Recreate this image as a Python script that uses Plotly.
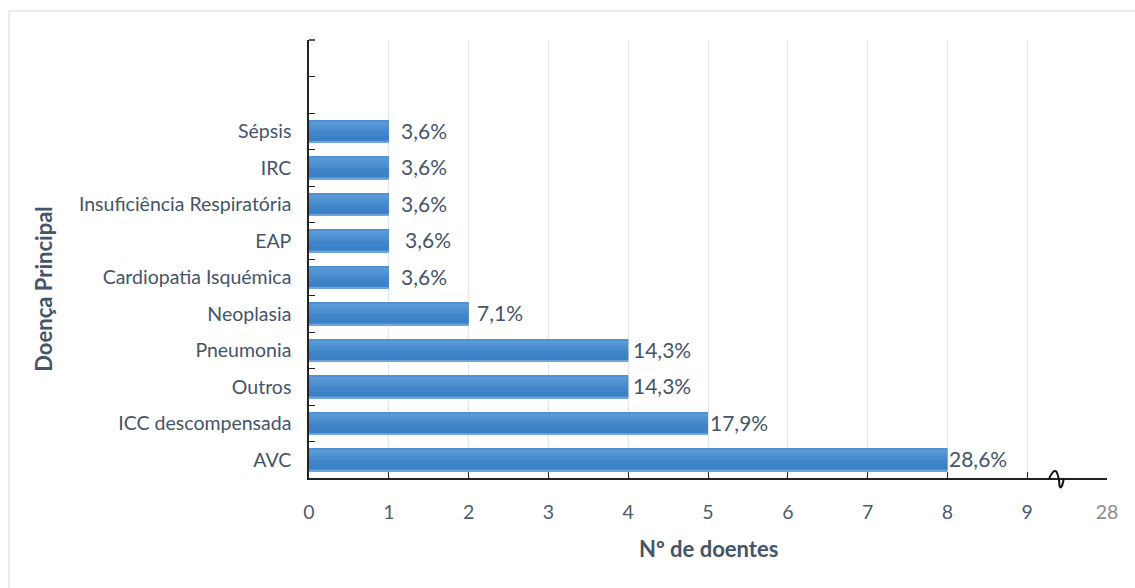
import plotly.graph_objects as go

# Principal diagnosis (bottom to top) and number of patients
categories = ["AVC", "ICC descompensada", "Outros", "Pneumonia", "Neoplasia",
              "Cardiopatia Isquémica", "EAP", "Insuficiência Respiratória", "IRC", "Sépsis"]
doentes = [8, 5, 4, 4, 2, 1, 1, 1, 1, 1]
total_doentes = 28

# two empty slots above the last category
empty_slots = [" ", "  "]
category_order = categories + empty_slots

x_tick_values = [0, 1, 2, 3, 4, 5, 6, 7, 8, 9, 10]
x_tick_labels = ["0", "1", "2", "3", "4", "5", "6", "7", "8", "9",
                 "<span style='color:#8a8a8a'>28</span>"]

percent_labels = [f"{v / total_doentes * 100:.1f}".replace(".", ",") + "%" for v in doentes]

# horizontal gap (px) between each bar end and its label
label_gap_px = [0, 0, 3, 3, 6, 10, 14, 10, 10, 10]

FONT = "Lato, 'Open Sans', sans-serif"
TEXT_COLOR = "#44546a"

fig = go.Figure()

bar_half = 0.31

# solid bar body
fig.add_trace(go.Bar(
    x=doentes, y=categories, orientation="h",
    offset=-bar_half, width=2 * bar_half,
    marker=dict(color="#4589cc", line=dict(width=0)),
    hovertemplate="%{y}: %{x}<extra></extra>", showlegend=False,
))

# overlapping shading bands (offset from bar centre, width, colour) for a soft gradient
shade_bands = [
    (-0.31, 0.05, "#6ea5db"),
    (-0.27, 0.16, "#3b81c6"),
    (-0.14, 0.14, "#4085c9"),
    (0.00, 0.12, "#4a8ecf"),
    (0.10, 0.12, "#5294d3"),
    (0.19, 0.09, "#5a9ad6"),
    (0.27, 0.04, "#4f91d1"),
]
for off, wid, col in shade_bands:
    fig.add_trace(go.Bar(
        x=doentes, y=categories, orientation="h",
        offset=off, width=wid,
        marker=dict(color=col, line=dict(width=0)),
        hoverinfo="skip", showlegend=False,
    ))

fig.update_layout(
    barmode="overlay",
    width=1135, height=588,
    margin=dict(l=309, r=28, t=40, b=110),
    paper_bgcolor="white", plot_bgcolor="white",
    font=dict(family=FONT, color=TEXT_COLOR),
    xaxis=dict(
        range=[0, 10], tickmode="array", tickvals=x_tick_values, ticktext=x_tick_labels,
        showgrid=True, gridcolor="#e1e7ef", gridwidth=1,
        showline=True, linecolor="#222222", linewidth=1.5,
        ticks="inside", ticklen=6, tickcolor="#222222",
        tickfont=dict(family=FONT, size=19.5, color="#4d5b70"),
        ticklabelstandoff=16,
        zeroline=False, fixedrange=True,
    ),
    yaxis=dict(
        type="category", categoryorder="array", categoryarray=category_order,
        range=[-0.5, 11.5],
        tickson="boundaries", ticks="inside", ticklen=6, tickcolor="#222222",
        showline=True, linecolor="#222222", linewidth=1.5,
        showgrid=False, ticklabelstandoff=12,
        tickfont=dict(family=FONT, size=19.5, color=TEXT_COLOR),
        fixedrange=True,
    ),
    shapes=[
        # outer frame
        dict(type="rect", xref="paper", yref="paper",
             x0=-0.376, x1=1.04, y0=-0.3, y1=1.066,
             line=dict(color="#e6e6e6", width=1.5), layer="below"),
        # tick at the top end of the category axis
        dict(type="line", xref="paper", yref="paper",
             x0=0, x1=0.0075, y0=1, y1=1, line=dict(color="#222222", width=1.5)),
        # axis break marker
        dict(type="path", xref="paper", yref="paper",
             path="M 0.9273,-0.002 Q 0.9330,0.022 0.9368,0.014 Q 0.9400,0.002 0.9405,-0.018 "
                  "Q 0.9430,-0.030 0.9460,0.000",
             line=dict(color="#111111", width=2)),
    ],
)

# percentage labels next to each bar
for cat, val, txt, gap in zip(categories, doentes, percent_labels, label_gap_px):
    fig.add_annotation(x=val, y=cat, xref="x", yref="y", text=txt, showarrow=False,
                       xanchor="left", yanchor="middle", xshift=gap, yshift=1,
                       font=dict(family=FONT, size=21, color=TEXT_COLOR))

# axis titles
fig.add_annotation(text="<b>Nº de doentes</b>", xref="paper", yref="paper",
                   x=0.5, y=-0.162, xanchor="center", yanchor="middle", showarrow=False,
                   font=dict(family=FONT, size=22, color=TEXT_COLOR))
fig.add_annotation(text="<b>Doença Principal</b>", xref="paper", yref="paper",
                   x=-0.332, y=0.43, xanchor="center", yanchor="middle", showarrow=False,
                   textangle=-90, font=dict(family=FONT, size=22, color=TEXT_COLOR))

fig.write_html("out.html")
